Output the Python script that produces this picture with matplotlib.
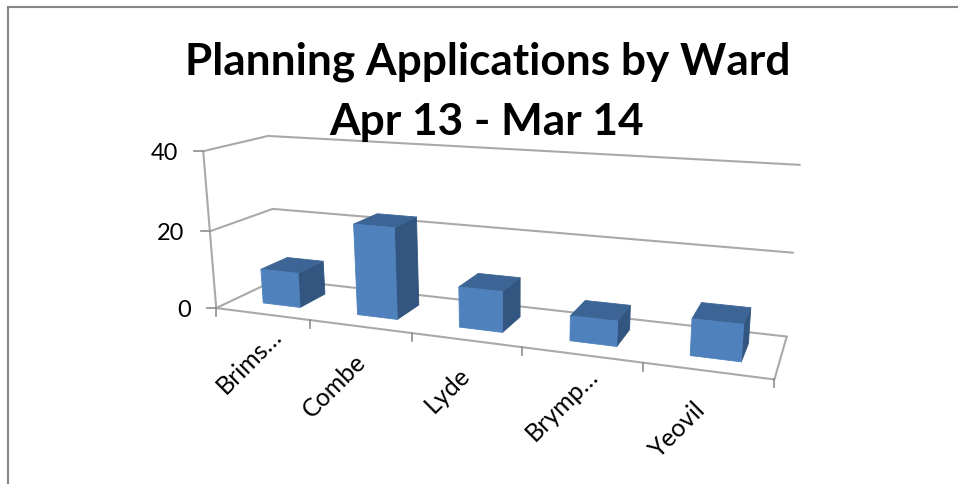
import numpy as np
import matplotlib
matplotlib.use("Agg")
import matplotlib.pyplot as plt
from matplotlib.patches import Polygon

title_lines = ["Planning Applications by Ward", "Apr 13 - Mar 14"]
wards = ["Brims\u2026", "Combe", "Lyde", "Brymp\u2026", "Yeovil"]
applications = [9, 23, 10, 6, 8.5]
y_ticks = [0, 20, 40]

# Layout: centre of each rotated category label, in pixels
label_centres = [(249, 361), (334, 386), (447, 390), (562, 405), (678, 430)]

FRONT = "#4F81BD"
TOP = "#3C6595"
SIDE = "#32567F"
GRID = "#A9A9A9"
TICK = "#8C8C8C"
FRAME = "#868686"
FONT = "Lato"

# Camera calibration: (category, depth, value) -> pixel position of the chart box
cal = [
    (0, 0, 0, 217, 309), (0, 0, 20, 210, 231), (0, 0, 40, 203, 152),
    (0, 1, 0, 277, 280), (0, 1, 20, 273, 210), (0, 1, 40, 268, 137),
    (5, 1, 0, 787, 337), (5, 1, 20, 793, 253), (5, 1, 40, 800, 167),
    (5, 0, 0, 775, 380), (1, 0, 0, 310, 322), (2, 0, 0, 412, 335),
    (3, 0, 0, 522, 349), (4, 0, 0, 642, 363),
]
A, b = [], []
for c, d, v, x, y in cal:
    A.append([c, d, v, 1, 0, 0, 0, 0, -x * c, -x * d, -x * v]); b.append(x)
    A.append([0, 0, 0, 0, c, d, v, 1, -y * c, -y * d, -y * v]); b.append(y)
m = np.linalg.lstsq(np.array(A, float), np.array(b, float), rcond=None)[0]
P = np.append(m, 1.0).reshape(3, 4)


def proj(c, d, v):
    h = P @ np.array([c, d, v, 1.0])
    return h[0] / h[2], h[1] / h[2]


fig = plt.figure(figsize=(9.58, 4.85), dpi=100)
ax = fig.add_axes([0, 0, 1, 1])
ax.set_xlim(0, 958)
ax.set_ylim(485, 0)
ax.axis("off")

# Outer chart frame
ax.plot([8, 8, 958], [485, 8, 8], color=FRAME, lw=1.5, solid_joinstyle="miter")


def line(pts, color=GRID, lw=1.5, z=1):
    xy = np.array([proj(*p) for p in pts])
    ax.plot(xy[:, 0], xy[:, 1], color=color, lw=lw, zorder=z, solid_capstyle="round")


# Walls and floor
for t in y_ticks:
    line([(0, 0, t), (0, 1, t), (5, 1, t)])
line([(0, 0, 0), (0, 0, max(y_ticks))])
line([(0, 0, 0), (5, 0, 0), (5, 1, 0)])

# Ticks and tick labels
for t in y_ticks:
    x, y = proj(0, 0, t)
    ax.plot([x - 9, x], [y, y], color=TICK, lw=1.2, zorder=1)
    ax.text(x - 25.5, y + 1, str(t), ha="right", va="center", fontsize=17,
            family=FONT, color="black")
for i in range(6):
    x, y = proj(i, 0, 0)
    ax.plot([x, x], [y, y + 8], color=TICK, lw=1.2, zorder=1)

# Bars
half_w, d0, d1 = 0.2, 0.28, 0.72
for i, (ward, val) in enumerate(zip(wards, applications)):
    l, r = i + 0.52 - half_w, i + 0.52 + half_w
    side = [proj(r, d0, 0), proj(r, d1, 0), proj(r, d1, val), proj(r, d0, val)]
    top = [proj(l, d0, val), proj(r, d0, val), proj(r, d1, val), proj(l, d1, val)]
    front = [proj(l, d0, 0), proj(r, d0, 0), proj(r, d0, val), proj(l, d0, val)]
    for poly, col in ((side, SIDE), (top, TOP), (front, FRONT)):
        ax.add_patch(Polygon(poly, closed=True, facecolor=col, edgecolor=col,
                             lw=0.6, zorder=3, joinstyle="round"))
    cx, cy = label_centres[i]
    ax.text(cx, cy, ward, rotation=45, rotation_mode="anchor",
            ha="center", va="center", fontsize=18, family=FONT, color="black")

# Title
ax.text(488, 62, title_lines[0], ha="center", va="center", fontsize=31.8,
        fontweight="bold", family=FONT, color="black")
ax.text(487, 122, title_lines[1], ha="center", va="center", fontsize=31.8,
        fontweight="bold", family=FONT, color="black")

fig.savefig("out.png", dpi=100)
